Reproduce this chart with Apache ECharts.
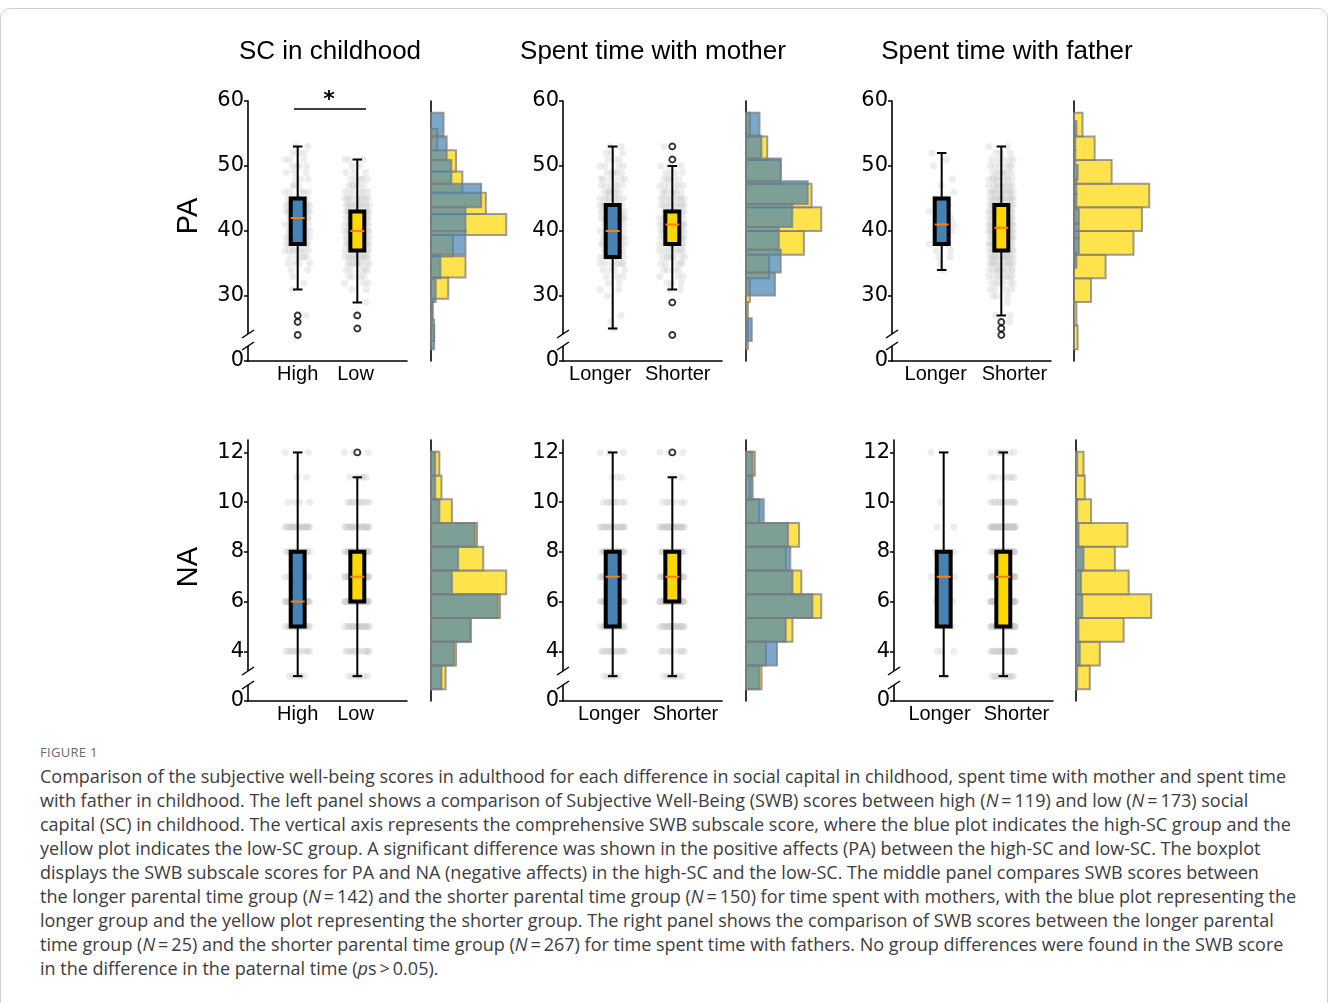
<!DOCTYPE html>
<html>
<head>
<meta charset="utf-8">
<script src="https://cdn.jsdelivr.net/npm/echarts@6.0.0/dist/echarts.min.js"></script>
<style>
  html, body { margin: 0; padding: 0; background: #fff; }
  #wrap { position: relative; width: 1328px; height: 1003px; overflow: hidden; }
  #frame { position: absolute; left: 0; top: 8px; width: 1326px; height: 1010px; border: 1px solid #cfcfcf; border-radius: 10px; }
  #chart { position: absolute; left: 0; top: 0; width: 1328px; height: 740px; }
  #fig { position: absolute; left: 40px; top: 743px; font-family: "Open Sans", "Noto Sans", sans-serif;
         font-size: 13px; color: #6b6b6b; letter-spacing: 0.3px; }
  #caption { position: absolute; left: 40px; top: 764px; font-family: "Open Sans", "Noto Sans", sans-serif;
             font-size: 18px; line-height: 24px; color: #3c3c3c; white-space: nowrap; }
</style>
</head>
<body>
<div id="wrap">
  <div id="frame"></div>
  <div id="chart"></div>
  <div id="fig">FIGURE 1</div>
  <div id="caption">
    Comparison of the subjective well-being scores in adulthood for each difference in social capital in childhood, spent time with mother and spent time<br>
    with father in childhood. The left panel shows a comparison of Subjective Well-Being (SWB) scores between high (<i>N</i>&#8201;=&#8201;119) and low (<i>N</i>&#8201;=&#8201;173) social<br>
    capital (SC) in childhood. The vertical axis represents the comprehensive SWB subscale score, where the blue plot indicates the high-SC group and the<br>
    yellow plot indicates the low-SC group. A significant difference was shown in the positive affects (PA) between the high-SC and low-SC. The boxplot<br>
    displays the SWB subscale scores for PA and NA (negative affects) in the high-SC and the low-SC. The middle panel compares SWB scores between<br>
    the longer parental time group (<i>N</i>&#8201;=&#8201;142) and the shorter parental time group (<i>N</i>&#8201;=&#8201;150) for time spent with mothers, with the blue plot representing the<br>
    longer group and the yellow plot representing the shorter group. The right panel shows the comparison of SWB scores between the longer parental<br>
    time group (<i>N</i>&#8201;=&#8201;25) and the shorter parental time group (<i>N</i>&#8201;=&#8201;267) for time spent time with fathers. No group differences were found in the SWB score<br>
    in the difference in the paternal time (<i>p</i>s&#8201;&gt;&#8201;0.05).
  </div>
</div>
<script>
// ---------- labels ----------
const panelTitles = ['SC in childhood', 'Spent time with mother', 'Spent time with father'];
const groupNames = [['High', 'Low'], ['Longer', 'Shorter'], ['Longer', 'Shorter']];
const rowNames = ['PA', 'NA'];

// ---------- box statistics: [lower whisker, Q1, median, Q3, upper whisker] ----------
const paBoxHighSC = [31, 38, 42, 45, 53];
const paBoxLowSC = [29, 37, 40, 43, 51];
const paBoxLongerMother = [25, 36, 40, 44, 53];
const paBoxShorterMother = [31, 38, 41, 43, 50];
const paBoxLongerFather = [34, 38, 41, 45, 52];
const paBoxShorterFather = [27, 37, 40.5, 44, 53];

const naBoxHighSC = [3, 5, 6, 8, 12];
const naBoxLowSC = [3, 6, 7, 8, 11];
const naBoxLongerMother = [3, 5, 7, 8, 12];
const naBoxShorterMother = [3, 6, 7, 8, 11];
const naBoxLongerFather = [3, 5, 7, 8, 12];
const naBoxShorterFather = [3, 5, 7, 8, 12];

// outliers
const paOutHighSC = [24, 26, 27];
const paOutLowSC = [25, 27];
const paOutLongerMother = [];
const paOutShorterMother = [24, 29, 51, 53];
const paOutLongerFather = [];
const paOutShorterFather = [24, 25, 26];
const naOutHighSC = [];
const naOutLowSC = [12];
const naOutLongerMother = [];
const naOutShorterMother = [12];
const naOutLongerFather = [];
const naOutShorterFather = [];

// ---------- individual PA scores: [score, number of people] ----------
const paDotsHighSC = [[24,1],[26,1],[27,1],[31,1],[32,1],[33,1],[34,2],[35,4],[36,5],[37,8],[38,9],[39,7],[40,8],[41,7],[42,11],[43,11],[44,10],[45,5],[46,5],[47,3],[48,3],[49,3],[50,4],[51,3],[52,3],[53,2]];
const paDotsLowSC = [[25,1],[27,1],[29,1],[31,2],[32,3],[33,4],[34,5],[35,9],[36,12],[37,10],[38,14],[39,10],[40,16],[41,14],[42,14],[43,11],[44,12],[45,10],[46,6],[47,5],[48,5],[49,3],[50,2],[51,3]];
const paDotsLongerMother = [[25,1],[26,1],[27,1],[30,1],[31,2],[32,2],[33,3],[34,4],[35,7],[36,8],[37,7],[38,8],[39,8],[40,10],[41,8],[42,10],[43,8],[44,9],[45,8],[46,7],[47,6],[48,6],[49,5],[50,4],[51,3],[52,3],[53,2]];
const paDotsShorterMother = [[24,1],[29,1],[31,2],[32,3],[33,3],[34,4],[35,5],[36,7],[37,8],[38,10],[39,11],[40,13],[41,13],[42,12],[43,11],[44,10],[45,9],[46,7],[47,6],[48,5],[49,4],[50,3],[51,1],[53,1]];
const paDotsLongerFather = [[34,1],[35,1],[36,2],[37,2],[38,2],[39,2],[40,2],[41,2],[42,1],[43,1],[44,1],[45,2],[46,1],[47,1],[48,1],[50,1],[51,1],[52,1]];
const paDotsShorterFather = [[24,1],[25,1],[26,1],[27,2],[29,1],[30,3],[31,4],[32,6],[33,8],[34,10],[35,12],[36,14],[37,15],[38,17],[39,18],[40,19],[41,18],[42,18],[43,16],[44,15],[45,14],[46,12],[47,10],[48,9],[49,7],[50,6],[51,5],[52,3],[53,2]];

// ---------- PA histograms: 10 bins over [min, max], counts from low to high ----------
const paRangeHighSC = [24, 53];
const paHistHighSC = [2, 1, 3, 6, 22, 22, 32, 13, 10, 8];
const paRangeLowSC = [25, 51];
const paHistLowSC = [2, 1, 11, 22, 14, 48, 35, 20, 16, 4];
const paRangeLongerMother = [25, 53];
const paHistLongerMother = [3, 0, 15, 18, 17, 24, 32, 18, 8, 7];
const paRangeShorterMother = [24, 53];
const paHistShorterMother = [1, 1, 2, 12, 30, 39, 34, 18, 11, 2];
const paRangeLongerFather = [34, 52];
const paHistLongerFather = [2, 4, 4, 4, 2, 2, 3, 1, 1, 2];
const paRangeShorterFather = [24, 53];
const paHistShorterFather = [3, 2, 14, 26, 49, 56, 62, 31, 17, 7];

// ---------- NA scores 3..12: number of people per score (also the histogram) ----------
const naScores = [3, 4, 5, 6, 7, 8, 9, 10, 11, 12];
const naHighSC = [5, 11, 19, 32, 10, 13, 21, 4, 2, 2];
const naLowSC = [7, 12, 19, 33, 36, 25, 22, 10, 5, 4];
const naLongerMother = [6, 14, 18, 30, 21, 20, 19, 8, 3, 3];
const naShorterMother = [7, 9, 21, 34, 25, 18, 24, 6, 2, 4];
const naLongerFather = [1, 3, 2, 5, 4, 6, 2, 1, 0, 1];
const naShorterFather = [11, 19, 38, 60, 42, 31, 41, 12, 7, 6];

// horizontal jitter of the grey dots (in box-position units)
const jitter = [0.02, -0.08, 0.11, -0.14, 0.05, -0.03, 0.17, -0.11, 0.08, -0.19, 0.14, -0.05,
                0.2, -0.16, 0.03, -0.09, 0.15, -0.01, 0.07, -0.13, 0.1, -0.21, 0.18, -0.06];

// ---------- layout ----------
const BLUE = '#4682b4', GOLD = '#ffd700';
const rowTop = [101, 440], rowHeight = [260, 261];
const boxLeft = [[248, 563, 892], [248, 563, 894]];
const histLeft = [[431, 746, 1074], [431, 746, 1076]];
const boxWidth = 159, histWidth = 79;
// where the group names sit on the x axis (box positions are 1 and 2)
const namePos = [[[1.0, 1.97], [0.79, 2.09], [0.9, 2.22]], [[1.0, 1.97], [0.94, 2.22], [0.93, 2.22]]];

const paPanels = [
  { box: [paBoxHighSC, paBoxLowSC], out: [paOutHighSC, paOutLowSC], dots: [paDotsHighSC, paDotsLowSC],
    hist: [[paRangeHighSC, paHistHighSC], [paRangeLowSC, paHistLowSC]] },
  { box: [paBoxLongerMother, paBoxShorterMother], out: [paOutLongerMother, paOutShorterMother], dots: [paDotsLongerMother, paDotsShorterMother],
    hist: [[paRangeLongerMother, paHistLongerMother], [paRangeShorterMother, paHistShorterMother]] },
  { box: [paBoxLongerFather, paBoxShorterFather], out: [paOutLongerFather, paOutShorterFather], dots: [paDotsLongerFather, paDotsShorterFather],
    hist: [[paRangeLongerFather, paHistLongerFather], [paRangeShorterFather, paHistShorterFather]] }
];
const naCounts = [[naHighSC, naLowSC], [naLongerMother, naShorterMother], [naLongerFather, naShorterFather]];
const naPanels = [0, 1, 2].map(p => ({
  box: [[naBoxHighSC, naBoxLowSC], [naBoxLongerMother, naBoxShorterMother], [naBoxLongerFather, naBoxShorterFather]][p],
  out: [[naOutHighSC, naOutLowSC], [naOutLongerMother, naOutShorterMother], [naOutLongerFather, naOutShorterFather]][p],
  dots: naCounts[p].map(c => naScores.map((s, i) => [s, c[i]])),
  hist: naCounts[p].map(c => [[3, 12], c])
}));

const grid = [], xAxis = [], yAxis = [], series = [], graphic = [];
const FONT = 'Liberation Sans';

function boxRender(fill) {
  return function (params, api) {
    const x = api.value(0);
    const pt = i => api.coord([x, api.value(i)]);
    const lo = pt(1), q1 = pt(2), md = pt(3), q3 = pt(4), hi = pt(5);
    const cx = lo[0];
    const hw = api.size([0.117, 0])[0];
    const cw = api.size([0.08, 0])[0];
    const ln = { stroke: '#000', lineWidth: 2 };
    return {
      type: 'group',
      children: [
        { type: 'line', shape: { x1: cx, y1: q1[1], x2: cx, y2: lo[1] }, style: ln },
        { type: 'line', shape: { x1: cx, y1: q3[1], x2: cx, y2: hi[1] }, style: ln },
        { type: 'line', shape: { x1: cx - cw, y1: lo[1], x2: cx + cw, y2: lo[1] }, style: ln },
        { type: 'line', shape: { x1: cx - cw, y1: hi[1], x2: cx + cw, y2: hi[1] }, style: ln },
        { type: 'rect', shape: { x: cx - hw, y: q3[1], width: 2 * hw, height: q1[1] - q3[1] },
          style: { fill: fill, stroke: '#000', lineWidth: 4 } },
        { type: 'line', shape: { x1: cx - hw, y1: md[1], x2: cx + hw, y2: md[1] },
          style: { stroke: '#ff7f0e', lineWidth: 2 } }
      ]
    };
  };
}

function histRender(fill) {
  return function (params, api) {
    const a = api.coord([0, api.value(2)]);
    const b = api.coord([api.value(0), api.value(1)]);
    return {
      type: 'rect',
      shape: { x: a[0], y: a[1], width: b[0] - a[0], height: b[1] - a[1] },
      style: { fill: fill, stroke: 'rgba(125,125,125,0.75)', lineWidth: 2 }
    };
  };
}

function buildRow(r, panels) {
  const yMin = r === 0 ? 20 : 2, yMax = r === 0 ? 60 : 12.5;
  const ticks = r === 0 ? [20, 30, 40, 50, 60] : [2, 4, 6, 8, 10, 12];
  const hMin = r === 0 ? 22.55 : 2.55, hMax = r === 0 ? 54.45 : 12.45;
  panels.forEach((pan, p) => {
    // ----- box plot axes -----
    const g = grid.length;
    grid.push({ left: boxLeft[r][p], top: rowTop[r], width: boxWidth, height: rowHeight[r] });
    const names = groupNames[p], pos = namePos[r][p];
    xAxis.push({
      gridIndex: g, type: 'value', min: 1 / 6, max: 17 / 6,
      axisLine: { show: true, onZero: false, lineStyle: { color: '#000', width: 1.6 } },
      axisTick: { show: false }, splitLine: { show: false },
      axisLabel: { customValues: pos, hideOverlap: false,
        formatter: v => names[Math.abs(v - pos[0]) < Math.abs(v - pos[1]) ? 0 : 1],
        fontFamily: FONT, fontSize: 20, color: '#000', margin: 3 }
    });
    yAxis.push({
      gridIndex: g, type: 'value', min: yMin, max: yMax,
      axisLine: { show: true, onZero: false, lineStyle: { color: '#000', width: 1.6 } },
      axisTick: { show: true, customValues: ticks, length: 4, lineStyle: { color: '#000', width: 1.5 } },
      splitLine: { show: false },
      axisLabel: { customValues: ticks, formatter: v => (v === yMin ? '0' : String(v)),
        fontFamily: 'DejaVu Sans', fontSize: 21, color: '#000', margin: 4 }
    });
    // grey jittered dots
    pan.dots.forEach((list, k) => {
      const pts = [];
      list.forEach((pair, j) => {
        for (let n = 0; n < pair[1]; n++) {
          pts.push([k + 1 + jitter[(n + j * 5) % jitter.length], pair[0]]);
        }
      });
      series.push({ type: 'scatter', xAxisIndex: g, yAxisIndex: g, data: pts, symbolSize: 7, silent: true,
        itemStyle: { color: 'rgba(200,200,200,0.4)' }, z: 1 });
    });
    // boxes
    pan.box.forEach((st, k) => {
      series.push({ type: 'custom', xAxisIndex: g, yAxisIndex: g, silent: true, z: 3,
        renderItem: boxRender(k === 0 ? BLUE : GOLD),
        encode: { x: 0, y: [1, 2, 3, 4, 5] },
        data: [[k + 1].concat(st)] });
    });
    // outliers
    pan.out.forEach((vals, k) => {
      series.push({ type: 'scatter', xAxisIndex: g, yAxisIndex: g, silent: true, z: 4,
        data: vals.map(v => [k + 1, v]), symbolSize: 6,
        itemStyle: { color: '#fff', borderColor: '#000', borderWidth: 1.8 } });
    });

    // ----- histogram axes -----
    const h = grid.length;
    grid.push({ left: histLeft[r][p], top: rowTop[r], width: histWidth, height: rowHeight[r] });
    const maxCount = Math.max.apply(null, pan.hist[0][1].concat(pan.hist[1][1]));
    xAxis.push({ gridIndex: h, type: 'value', min: 0, max: maxCount * 1.05, show: false });
    yAxis.push({ gridIndex: h, type: 'value', min: hMin, max: hMax,
      axisLine: { show: true, onZero: false, lineStyle: { color: '#000', width: 1.6 } },
      axisTick: { show: false }, axisLabel: { show: false }, splitLine: { show: false } });
    // yellow first, blue on top
    [1, 0].forEach(k => {
      const range = pan.hist[k][0], counts = pan.hist[k][1];
      const w = (range[1] - range[0]) / counts.length;
      const data = [];
      counts.forEach((c, i) => { if (c > 0) data.push([c, range[0] + i * w, range[0] + (i + 1) * w]); });
      series.push({ type: 'custom', xAxisIndex: h, yAxisIndex: h, silent: true, z: k === 0 ? 3 : 2,
        renderItem: histRender(k === 0 ? 'rgba(70,130,180,0.7)' : 'rgba(255,215,0,0.7)'),
        encode: { x: 0, y: [1, 2] }, data: data });
    });

    // axis break marks on the box-plot y axis
    const bx = boxLeft[r][p];
    const by = r === 0 ? [334, 346] : [671, 685];
    graphic.push({ type: 'rect', shape: { x: bx - 3, y: by[0], width: 6, height: by[1] - by[0] },
      style: { fill: '#fff' }, z: 10 });
    by.forEach(y => graphic.push({ type: 'line', shape: { x1: bx - 6, y1: y + 4, x2: bx + 6, y2: y - 4 },
      style: { stroke: '#000', lineWidth: 1.5 }, z: 11 }));
  });
}

buildRow(0, paPanels);
buildRow(1, naPanels);

// titles and row labels
const titleX = [330, 653, 1007];
panelTitles.forEach((t, i) => graphic.push({ type: 'text', x: titleX[i], y: 52,
  style: { text: t, font: '26px "Liberation Sans"', fill: '#000', textAlign: 'center', textVerticalAlign: 'middle' } }));
[216, 567].forEach((y, i) => graphic.push({ type: 'text', x: 189, y: y, rotation: Math.PI / 2,
  style: { text: rowNames[i], font: '29px "Liberation Sans"', fill: '#000', textAlign: 'center', textVerticalAlign: 'middle' } }));
// significance bar
graphic.push({ type: 'line', shape: { x1: 294, y1: 109, x2: 366, y2: 109 }, style: { stroke: '#000', lineWidth: 1.6 } });
graphic.push({ type: 'text', x: 329, y: 100, style: { text: '*', font: 'bold 22px "DejaVu Sans"', fill: '#000',
  textAlign: 'center', textVerticalAlign: 'middle' } });

const chart = echarts.init(document.getElementById('chart'), null, { renderer: 'canvas' });
chart.setOption({
  animation: false,
  grid: grid, xAxis: xAxis, yAxis: yAxis, series: series, graphic: graphic
});
</script>
</body>
</html>
